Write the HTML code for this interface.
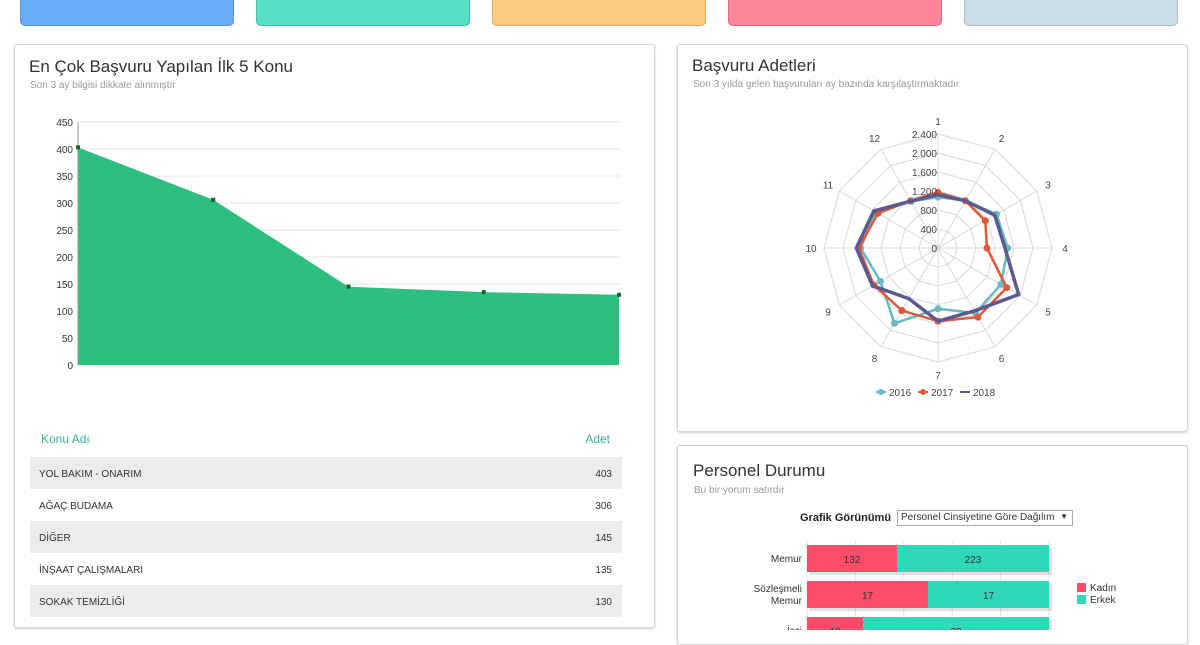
<!DOCTYPE html>
<html><head><meta charset="utf-8"><style>
body{margin:0;width:1200px;height:630px;overflow:hidden;background:#fff;font-family:"Liberation Sans",sans-serif;position:relative}
.card{position:absolute;top:-6px;height:32px;width:214px;border-radius:0 0 5px 5px;border:1px solid rgba(0,0,0,.15);box-sizing:border-box}
.panel{position:absolute;border:1px solid #d6d6d6;border-radius:3px;box-shadow:0 1px 2px rgba(0,0,0,.2);background:#fff;box-sizing:border-box}
.t{position:absolute;font-size:17px;color:#333;white-space:nowrap}
.s{position:absolute;font-size:10px;color:#999;white-space:nowrap}
svg{position:absolute;left:0;top:0}
</style></head><body>
<div class="card" style="left:20px;background:#6bacf7"></div>
<div class="card" style="left:256px;background:#5ae0c6"></div>
<div class="card" style="left:492px;background:#fdca82"></div>
<div class="card" style="left:728px;background:#fd8598"></div>
<div class="card" style="left:964px;background:#cadfe5"></div>

<div class="panel" style="left:14px;top:44px;width:641px;height:584px"></div>
<div class="panel" style="left:677px;top:44px;width:511px;height:388px"></div>
<div class="panel" style="left:677px;top:445px;width:511px;height:200px"></div>

<div class="t" style="left:29px;top:57px">En Çok Başvuru Yapılan İlk 5 Konu</div>
<div class="s" style="left:30px;top:80px">Son 3 ay bilgisi dikkate alınmıştır</div>
<div class="t" style="left:692px;top:56px">Başvuru Adetleri</div>
<div class="s" style="left:693px;top:79px">Son 3 yılda gelen başvuruları ay bazında karşılaştırmaktadır</div>
<div class="t" style="left:693px;top:461px">Personel Durumu</div>
<div class="s" style="left:694px;top:485px">Bu bir yorum satırdır</div>
<div style="position:absolute;left:800px;top:512px;font-size:11px;font-weight:bold;color:#222">Grafik Görünümü</div>
<div style="position:absolute;left:897px;top:510px;width:176px;height:16px;border:1px solid #aaa;box-sizing:border-box;font-size:10px;color:#333;padding:1px 3px;white-space:nowrap">Personel Cinsiyetine Göre Dağılım <span style="position:absolute;right:4px;font-size:8px">▼</span></div>

<svg id="svg" width="1200" height="630" xmlns="http://www.w3.org/2000/svg"></svg>
<script>
const topics=["YOL BAKIM - ONARIM","AĞAÇ BUDAMA","DİĞER","İNŞAAT ÇALIŞMALARI","SOKAK TEMİZLİĞİ"];
const topicValues=[403,306,145,135,130];
const yTicks=[0,50,100,150,200,250,300,350,400,450];
const months=["1","2","3","4","5","6","7","8","9","10","11","12"];
const s2016=[1070,1150,1420,1470,1530,1580,1280,1830,1400,1630,1510,1130];
const s2017=[1170,1150,1150,1030,1670,1680,1540,1520,1560,1670,1460,1150];
const s2018=[1120,1150,1380,1410,1960,1530,1540,1230,1590,1720,1560,1140];
const rTicks=[0,400,800,1200,1600,2000,2400];
const rLabels=["0","400","800","1.200","1.600","2.000","2.400"];
const staffCats=["Memur","Sözleşmeli|Memur","İşçi"];
const kadin=[132,17,10];
const erkek=[223,17,33];

const S=document.getElementById('svg');const NS='http://www.w3.org/2000/svg';
function mk(t,a,p){const e=document.createElementNS(NS,t);for(const k in a)e.setAttribute(k,a[k]);(p||S).appendChild(e);return e;}
// area chart
const x0=78,x1=619,yb=365,yt=122;
const ax=i=>x0+i*(x1-x0)/(topicValues.length-1);
const ay=v=>yb-(v/450)*(yb-yt);
yTicks.forEach(v=>{
 const g=mk('line',{x1:x0,x2:620,y1:ay(v),y2:ay(v),stroke:'#e3e3e3'});
 
 
 const t=mk('text',{x:73,y:ay(v)+4,'text-anchor':'end','font-size':10,fill:'#333'});t.textContent=v;
 
 
});
let d='M'+ax(0)+','+yb;topicValues.forEach((v,i)=>d+=' L'+ax(i)+','+ay(v));d+=' L'+ax(topicValues.length-1)+','+yb+'Z';
const area=mk('path',{d:d,fill:'#2dbf80'});


mk('line',{x1:x0,x2:x0,y1:yt,y2:yb,stroke:'#999'});
topicValues.forEach((v,i)=>{const p=mk('rect',{x:ax(i)-2,y:ay(v)-2,width:4,height:4,fill:'#116622'});
 
 });
// table
const h1=mk('text',{x:41,y:443,'font-size':12,fill:'#3ab09a'});h1.textContent='Konu Adı';


const h2=mk('text',{x:610,y:443,'font-size':12,fill:'#3ab09a','text-anchor':'end'});h2.textContent='Adet';


topics.forEach((n,i)=>{const y=457+i*32;
 if(i%2==0){const r=mk('rect',{x:30,y:y,width:592,height:32,fill:'#ebecee'});
 
 }
 const a=mk('text',{x:39,y:y+20,'font-size':10,fill:'#333'});a.textContent=n;
 
 
 const b=mk('text',{x:612,y:y+20,'font-size':10,fill:'#333','text-anchor':'end'});b.textContent=topicValues[i];
 
 
});
// radar
const cx=938,cy=248,R=114;
const pt=(i,v)=>{const a=i*Math.PI/6;return [cx+Math.sin(a)*R*v/2400,cy-Math.cos(a)*R*v/2400];};
rTicks.forEach(v=>{if(!v)return;const ps=months.map((m,i)=>pt(i,v).join(',')).join(' ');
 const g=mk('polygon',{points:ps,fill:'none',stroke:'#d8d8d8'});
 
 });
months.forEach((m,i)=>{const e=pt(i,2400);mk('line',{x1:cx,y1:cy,x2:e[0],y2:e[1],stroke:'#d8d8d8'});
 const l=pt(i,2400*(R+13)/R);const t=mk('text',{x:l[0],y:l[1]+4,'text-anchor':'middle','font-size':10,fill:'#444'});t.textContent=m;
 
 });
function series(vals,col,w,dots,name){const ps=vals.map((v,i)=>pt(i,v).join(',')).join(' ');
 const p=mk('polygon',{points:ps,fill:'none',stroke:col,'stroke-width':w,'stroke-linejoin':'round'});
 
 
 if(dots)vals.forEach((v,i)=>{const q=pt(i,v);mk('circle',{cx:q[0],cy:q[1],r:3.5,fill:col});});}
series(s2016,'#6ab8c0',2.5,true,'series-2016');
series(s2017,'#e0583a',2.5,true,'series-2017');
series(s2018,'#5a5a8e',3.5,false,'series-2018');
rTicks.forEach((v,k)=>{const t=mk('text',{x:cx-1,y:cy-R*v/2400+4,'text-anchor':'end','font-size':10,fill:'#444'});t.textContent=rLabels[k];
 
 });
[['2016','#6ab8c0',876],['2017','#e0583a',918],['2018','#5a5a8e',960]].forEach(([n,c,x])=>{
 mk('line',{x1:x,x2:x+10,y1:392,y2:392,stroke:c,'stroke-width':2});
 if(n!='2018')mk('circle',{cx:x+5,cy:392,r:3,fill:c});
 const t=mk('text',{x:x+13,y:396,'font-size':10,fill:'#444'});t.textContent=n;
 
 });
// staff bars
const bx=807,bw=242;
[0,1,2,3,4,5].forEach(k=>mk('line',{x1:bx+k*bw/5,x2:bx+k*bw/5,y1:540,y2:630,stroke:'#e6e6e6'}));
staffCats.forEach((c,i)=>{const y=545+i*36,h=27,tot=kadin[i]+erkek[i],wk=bw*kadin[i]/tot;
 mk('rect',{x:bx+3,y:y+3,width:bw,height:h,fill:'rgba(0,0,0,0.12)'});
 const r1=mk('rect',{x:bx,y:y,width:wk,height:h,fill:'#fe4d6b'});
 
 
 const r2=mk('rect',{x:bx+wk,y:y,width:bw-wk,height:h,fill:'#2fd8b6'});
 
 
 const a=mk('text',{x:bx+wk/2,y:y+18,'text-anchor':'middle','font-size':10,fill:'#333'});a.textContent=kadin[i];
 const b=mk('text',{x:bx+wk+(bw-wk)/2,y:y+18,'text-anchor':'middle','font-size':10,fill:'#333'});b.textContent=erkek[i];
 const parts=c.split('|');parts.forEach((p,j)=>{const t=mk('text',{x:802,y:y+17+(j-(parts.length-1)/2)*12,'text-anchor':'end','font-size':10,fill:'#333'});t.textContent=p;
 
 });
});
[['Kadın','#fe4d6b',583],['Erkek','#2fd8b6',595]].forEach(([n,c,y])=>{mk('rect',{x:1077,y:y,width:9,height:9,fill:c});
 const t=mk('text',{x:1090,y:y+8,'font-size':10,fill:'#333'});t.textContent=n;
 
 });
</script>
</body></html>
